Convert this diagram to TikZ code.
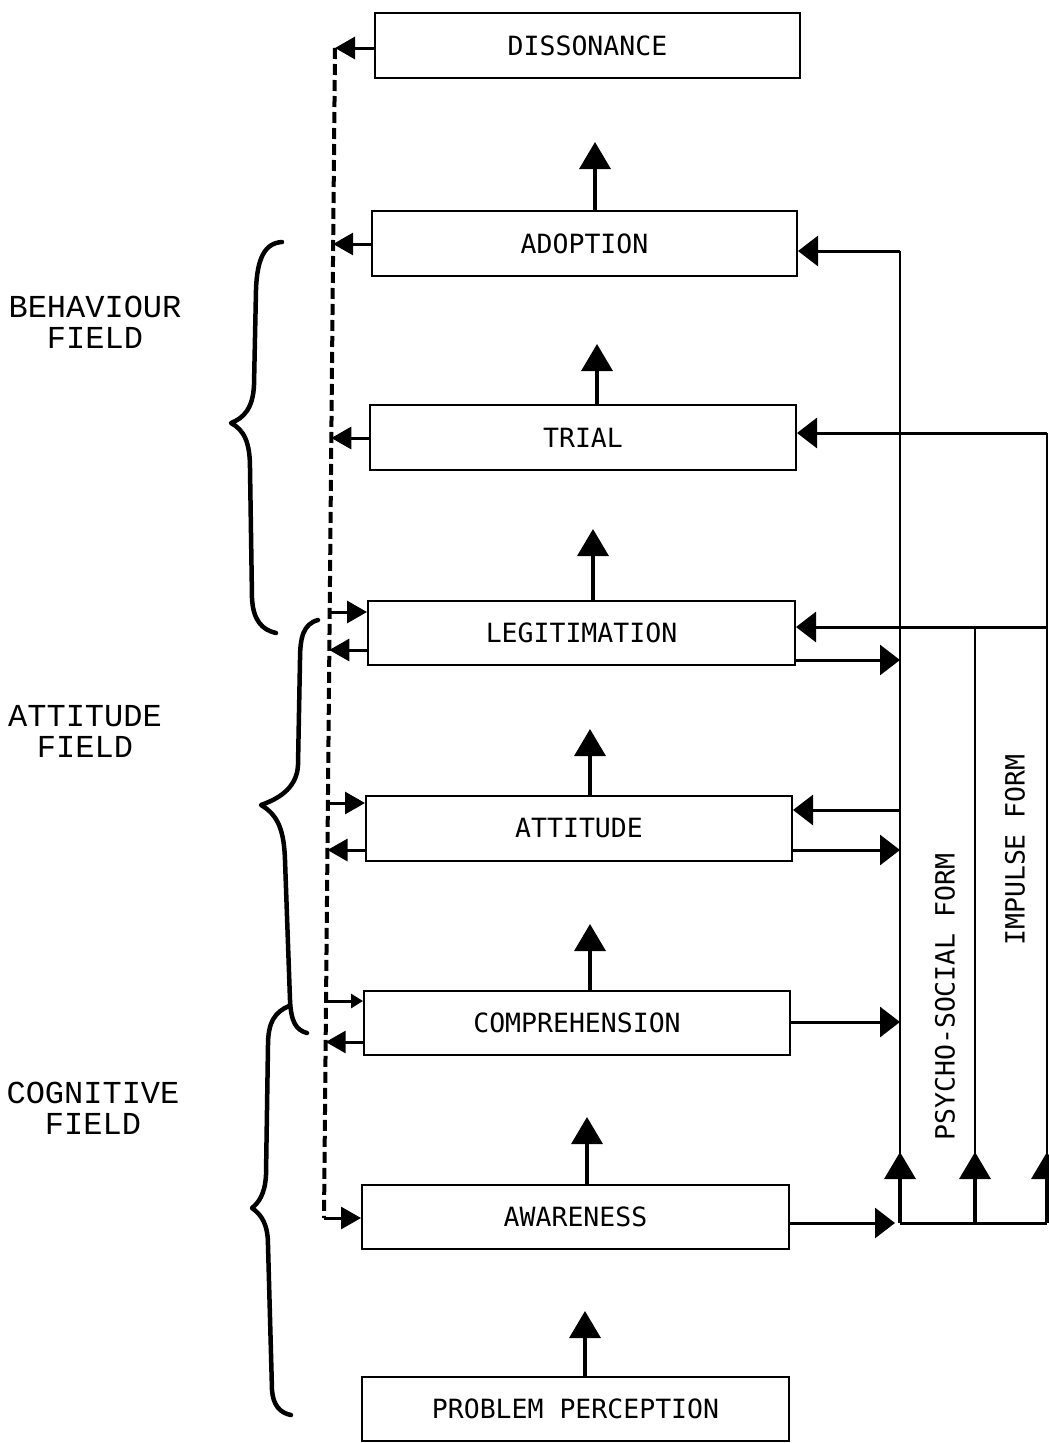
\documentclass[tikz,border=0pt]{standalone}
\usepackage{fontspec}
\usetikzlibrary{arrows.meta}
\newfontfamily\boxfont{DejaVu Sans Mono}
\newfontfamily\fieldfont{Liberation Mono}
\begin{document}
\begin{tikzpicture}[x=1pt,y=-1pt,
  box/.style={draw, line width=2pt, minimum height=65pt, inner sep=0pt,
    font=\boxfont\fontsize{26.5}{30}\selectfont},
  field/.style={align=center, inner sep=0pt, font=\fieldfont\fontsize{32}{31}\selectfont},
  formlbl/.style={rotate=90, inner sep=0pt, font=\boxfont\fontsize{26.5}{30}\selectfont},
  uparr/.style={line width=3.5pt, -{Triangle[width=31pt,length=27pt]}},
  larr/.style={line width=3pt, -{Triangle[width=22pt,length=20pt]}},
  rarr/.style={line width=3pt, -{Triangle[width=30pt,length=20pt]}},
  vline/.style={line width=2.5pt},
  dline/.style={line width=4pt, dash pattern=on 11pt off 5pt},
  brace/.style={line width=4.5pt, line cap=round, line join=round}
]
\fill[white] (0,0) rectangle (1049,1443);
\useasboundingbox (0,0) rectangle (1049,1443);

% boxes
\node[box, minimum width=425pt] (diss)  at (587.5,45.5) {DISSONANCE};
\node[box, minimum width=425pt] (adop)  at (584.5,243.5) {ADOPTION};
\node[box, minimum width=426pt] (trial) at (583,437.5) {TRIAL};
\node[box, minimum width=427pt, minimum height=64pt] (legit) at (581.5,633) {LEGITIMATION};
\node[box, minimum width=426pt] (att)   at (579,828.5) {ATTITUDE};
\node[box, minimum width=426pt, minimum height=64pt] (comp)  at (577,1023) {COMPREHENSION};
\node[box, minimum width=427pt, minimum height=64pt] (aware) at (575.5,1217) {AWARENESS};
\node[box, minimum width=427pt, minimum height=64pt] (prob)  at (575.5,1409) {PROBLEM PERCEPTION};

% upward arrows between boxes
\draw[uparr] ([xshift=10.5pt]adop.north) -- ++(0,-68);
\draw[uparr] ([xshift=14pt]trial.north) -- ++(0,-60);
\draw[uparr] ([xshift=11.5pt]legit.north) -- ++(0,-71);
\draw[uparr] ([xshift=11pt]att.north) -- ++(0,-66);
\draw[uparr] ([xshift=13pt]comp.north) -- ++(0,-66);
\draw[uparr] ([xshift=11.5pt]aware.north) -- ++(0,-67);
\draw[uparr] ([xshift=9.5pt]prob.north) -- ++(0,-65);

% left dashed feedback line
\coordinate (dDiss) at (335,48);
\coordinate (dAdop) at (333.1,244);
\coordinate (dTrial) at (331.3,438);
\coordinate (dLin) at (329.7,612);
\coordinate (dLout) at (329.3,650);
\coordinate (dAin) at (327.9,803);
\coordinate (dAout) at (327.5,850);
\coordinate (dCin) at (326,1001);
\coordinate (dCout) at (325.7,1042);
\coordinate (dAw) at (324,1218);
\draw[dline] (dDiss) -- (dAw);

\draw[larr] (diss.west |- dDiss) -- (dDiss);
\draw[larr] (adop.west |- dAdop) -- (dAdop);
\draw[larr] (trial.west |- dTrial) -- (dTrial);
\draw[larr] (dLin) -- (legit.west |- dLin);
\draw[larr] (legit.west |- dLout) -- (dLout);
\draw[larr] (dAin) -- (att.west |- dAin);
\draw[larr] (att.west |- dAout) -- (dAout);
\draw[line width=3pt, -{Triangle[width=14pt,length=12pt]}] (dCin) -- (comp.west |- dCin);
\draw[larr] (comp.west |- dCout) -- (dCout);
\draw[larr] (dAw) -- (aware.west |- dAw);

% right side: forms
\coordinate (pT) at (900,251);
\coordinate (p1) at (900,660);
\coordinate (p2) at (900,810);
\coordinate (p3) at (900,850);
\coordinate (p4) at (900,1022);
\coordinate (pB) at (900,1223);
\coordinate (mT) at (975,627);
\coordinate (mB) at (975,1223);
\coordinate (iT) at (1047,433);
\coordinate (iL) at (1047,627);
\coordinate (iB) at (1047,1223);

\draw[vline] (pB) -- (pT);
\draw[vline] (mB) -- (mT);
\draw[vline] (iB) -- (iT);
\draw[line width=3pt] (pB) -- (iB);

\draw[rarr] (pT) -- (pT -| adop.east);
\draw[rarr] (iT) -- (iT -| trial.east);
\draw[rarr] (iL) -- (iL -| legit.east);
\draw[rarr] (legit.east |- p1) -- (p1);
\draw[rarr] (p2) -- (p2 -| att.east);
\draw[rarr] (att.east |- p3) -- (p3);
\draw[rarr] (comp.east |- p4) -- (p4);
\draw[rarr] (aware.east |- pB) -- ([xshift=-5pt]pB);

\draw[uparr] (pB) -- ++(0,-71);
\draw[uparr] (mB) -- ++(0,-71);
\draw[uparr] (iB) -- ++(0,-71);

\node[formlbl] (psyLbl) at (945,997) {PSYCHO-SOCIAL FORM};
\node[formlbl] (impLbl) at (1015,850) {IMPULSE FORM};

% braces
\draw[brace] (282,242) .. controls (265,243) and (257,258) .. (256,290)
  -- (254,385) .. controls (253,408) and (244,418) .. (231,423)
  .. controls (244,430) and (250,442) .. (250,468)
  -- (252,598) .. controls (253,620) and (262,630) .. (276,633);
\draw[brace] (318,620) .. controls (303,624) and (300,638) .. (300,660)
  -- (298,765) .. controls (297,790) and (275,800) .. (261,805)
  .. controls (278,815) and (284,830) .. (285,860)
  -- (290,1000) .. controls (291,1022) and (296,1030) .. (307,1033);
\draw[brace] (289,1006) .. controls (275,1012) and (268,1022) .. (268,1045)
  -- (266,1175) .. controls (265,1195) and (258,1203) .. (252,1208)
  .. controls (262,1215) and (268,1225) .. (268,1245)
  -- (272,1390) .. controls (273,1405) and (280,1413) .. (291,1415);

\node[field] (behLbl) at (95,322) {BEHAVIOUR\\FIELD};
\node[field] (attLbl) at (85,731) {ATTITUDE\\FIELD};
\node[field] (cogLbl) at (93,1108) {COGNITIVE\\FIELD};
\end{tikzpicture}
\end{document}
